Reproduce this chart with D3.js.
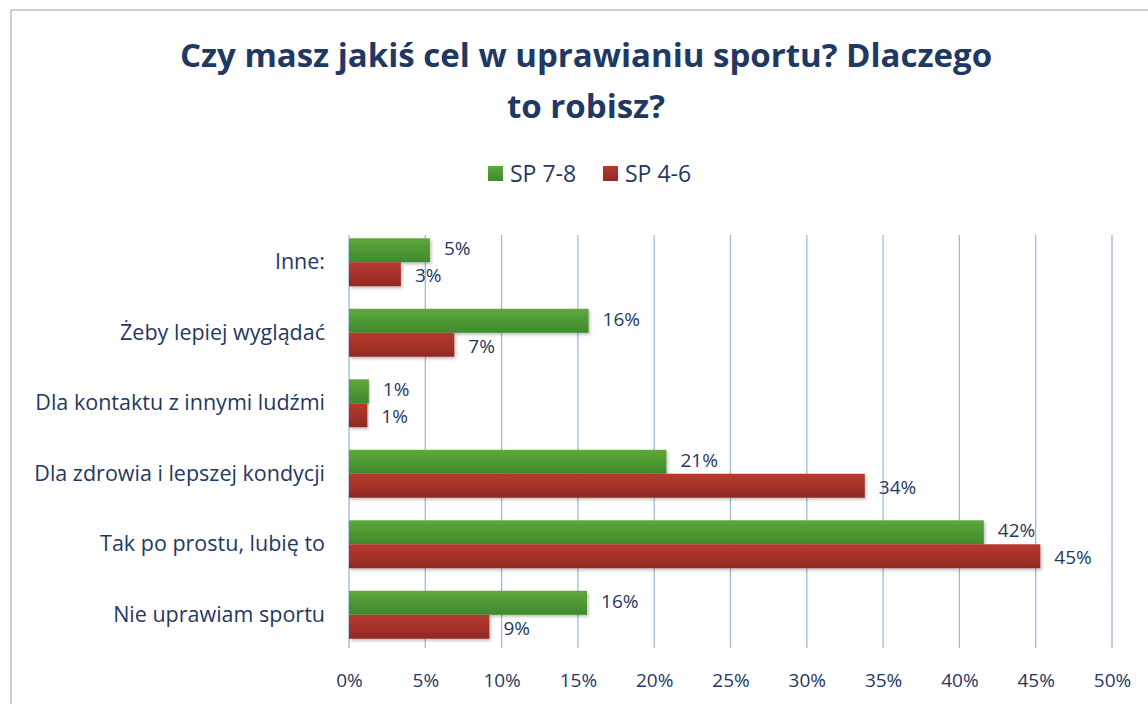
<!DOCTYPE html>
<html>
<head>
<meta charset="utf-8">
<script src="https://cdn.jsdelivr.net/npm/d3@7"></script>
<style>
  body { margin: 0; background: #fff; }
  text { font-family: "Open Sans", "DejaVu Sans", sans-serif; }
</style>
</head>
<body>
<div id="chart"></div>
<script>
const width = 1148;
const height = 704;

// dane
const categories = ['Inne:', 'Żeby lepiej wyglądać', 'Dla kontaktu z innymi ludźmi',
  'Dla zdrowia i lepszej kondycji', 'Tak po prostu, lubię to', 'Nie uprawiam sportu'];
const seriesNames = ['SP 7-8', 'SP 4-6'];
const sp78 = [5.3, 15.7, 1.3, 20.8, 41.6, 15.6];
const sp46 = [3.4, 6.9, 1.2, 33.8, 45.3, 9.2];
const ticks = [0, 5, 10, 15, 20, 25, 30, 35, 40, 45, 50];

const navy = '#1f3864';
const plotLeft = 349, plotRight = 1112, plotTop = 227, plotBottom = 650;

let svg = d3.select('#chart').append('svg')
  .attr('width', width)
  .attr('height', height);

// gradienty i cień
let defs = svg.append('defs');
function grad(id, c1, c2) {
  let g = defs.append('linearGradient').attr('id', id)
    .attr('x1', 0).attr('y1', 0).attr('x2', 0).attr('y2', 1);
  g.append('stop').attr('offset', '0%').attr('stop-color', c1);
  g.append('stop').attr('offset', '100%').attr('stop-color', c2);
}
grad('gGreen', '#5ea83c', '#3f8a2c');
grad('gRed', '#b83a2f', '#912a22');
let f = defs.append('filter').attr('id', 'shadow').attr('x', '-5%').attr('y', '-20%').attr('width', '110%').attr('height', '150%');
f.append('feDropShadow').attr('dx', 1.5).attr('dy', 2).attr('stdDeviation', 1.5)
  .attr('flood-color', '#000').attr('flood-opacity', 0.25);

// ramka wykresu
svg.append('rect')
  .attr('x', 11).attr('y', 10)
  .attr('width', 1160).attr('height', 720)
  .attr('fill', 'none')
  .attr('stroke', '#b0b0b0')
  .attr('stroke-width', 1.2);

// tytuł
let title = svg.append('text')
  .attr('text-anchor', 'middle')
  .style('font-size', '33px')
  .style('font-weight', 'bold')
  .style('fill', navy);
title.append('tspan').attr('x', 586).attr('y', 67).text('Czy masz jakiś cel w uprawianiu sportu? Dlaczego');
title.append('tspan').attr('x', 586).attr('y', 118).text('to robisz?');

// skale
let x = d3.scaleLinear().domain([0, 50]).range([plotLeft, plotRight]);
let y = d3.scaleBand().domain(categories).range([plotTop, plotBottom]).paddingInner(0.32).paddingOuter(0.16);
let ySub = d3.scaleBand().domain(seriesNames).range([0, y.bandwidth()]);

// siatka
svg.append('g').selectAll('line')
  .data(ticks)
  .join('line')
  .attr('x1', d => x(d)).attr('x2', d => x(d))
  .attr('y1', plotTop + 8).attr('y2', plotBottom - 2)
  .attr('stroke', '#9fb9da')
  .attr('stroke-width', 1.3);

// oś X
let xAxis = svg.append('g')
  .attr('transform', `translate(0, ${plotBottom})`)
  .call(d3.axisBottom(x).tickValues(ticks).tickFormat(d => d + '%').tickSize(0).tickPadding(24));
xAxis.select('.domain').remove();
xAxis.selectAll('text')
  .style('font-size', '19px')
  .style('fill', navy)
  .style('font-family', '"Open Sans", sans-serif');

// oś Y
let yAxis = svg.append('g')
  .attr('transform', `translate(${plotLeft}, 0)`)
  .call(d3.axisLeft(y).tickSize(0).tickPadding(24));
yAxis.select('.domain').remove();
yAxis.selectAll('text')
  .style('font-size', '21.5px')
  .style('fill', navy)
  .style('font-family', '"Open Sans", sans-serif');

// słupki
let rows = [];
categories.forEach((c, i) => {
  rows.push({ cat: c, series: 'SP 7-8', value: sp78[i], fill: 'url(#gGreen)', shift: -1.5 });
  rows.push({ cat: c, series: 'SP 4-6', value: sp46[i], fill: 'url(#gRed)', shift: 1.5 });
});

let bars = svg.append('g');
bars.selectAll('rect')
  .data(rows)
  .join('rect')
  .attr('x', x(0))
  .attr('y', d => y(d.cat) + ySub(d.series))
  .attr('width', d => x(d.value) - x(0))
  .attr('height', ySub.bandwidth())
  .attr('fill', d => d.fill)
  .attr('filter', 'url(#shadow)');

// etykiety wartości
bars.selectAll('text.val')
  .data(rows)
  .join('text')
  .attr('class', 'val')
  .attr('x', d => x(d.value) + 14)
  .attr('y', d => y(d.cat) + ySub(d.series) + ySub.bandwidth() / 2 + d.shift)
  .attr('dy', '0.35em')
  .style('font-size', '19px')
  .style('fill', navy)
  .text(d => Math.round(d.value) + '%');

// legenda
let legend = svg.append('g').attr('transform', 'translate(488, 165)');
let items = [
  { name: seriesNames[0], fill: 'url(#gGreen)', x: 0 },
  { name: seriesNames[1], fill: 'url(#gRed)', x: 115 }
];
let li = legend.selectAll('g').data(items).join('g')
  .attr('transform', d => `translate(${d.x}, 0)`);
li.append('rect')
  .attr('width', 15).attr('height', 15).attr('y', 1)
  .attr('fill', d => d.fill);
li.append('text')
  .attr('x', 22).attr('y', 9).attr('dy', '0.35em')
  .style('font-size', '23px')
  .style('fill', navy)
  .text(d => d.name);
</script>
</body>
</html>
